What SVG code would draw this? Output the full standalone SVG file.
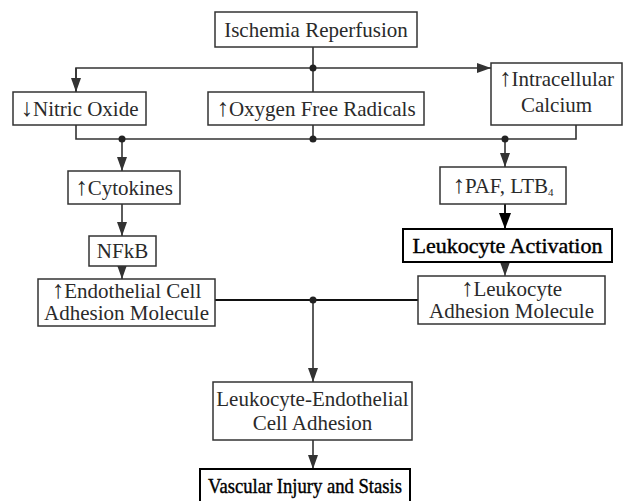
<svg xmlns="http://www.w3.org/2000/svg" width="624" height="501" viewBox="0 0 624 501">
<style>
  .box{fill:#fff;stroke:#333;stroke-width:1.5}
  .boxb{fill:#fff;stroke:#000;stroke-width:2}
  .t{font-family:"Liberation Serif","Times New Roman",serif;font-size:21px;fill:#2a2a2a;text-anchor:middle}
  .tb{font-family:"Liberation Serif","Times New Roman",serif;font-size:21px;fill:#000;stroke:#000;stroke-width:0.4;text-anchor:middle}
  .ar{font-size:25px}
  .ln{fill:none;stroke:#333;stroke-width:1.6}
  .dot{fill:#222}
</style>
<defs>
  <marker id="ah" viewBox="0 0 14 10" refX="14" refY="5" markerWidth="14" markerHeight="10" markerUnits="userSpaceOnUse" orient="auto">
    <path d="M0,0 L14,5 L0,10 z" fill="#333"/>
  </marker>
  <marker id="ahb" viewBox="0 0 16 12" refX="16" refY="6" markerWidth="16" markerHeight="12" markerUnits="userSpaceOnUse" orient="auto">
    <path d="M0,0 L16,6 L0,12 z" fill="#000"/>
  </marker>
</defs>
<rect width="624" height="501" fill="#fff"/>

<g id="connectors">
  <path class="ln" d="M313,47 V92"/>
  <path class="ln" d="M76,92 V68 H491" marker-end="url(#ah)"/>
  <path class="ln" d="M76,68 V92" marker-end="url(#ah)"/>
  <path class="ln" d="M76,125 V139 H576 V125"/>
  <path class="ln" d="M313,125 V139"/>
  <path class="ln" d="M122,139 V171" marker-end="url(#ah)"/>
  <path class="ln" d="M505,139 V167" marker-end="url(#ah)"/>
  <path class="ln" d="M122,204 V236" marker-end="url(#ah)"/>
  <path d="M505,204 V229" fill="none" stroke="#000" stroke-width="1.8" marker-end="url(#ahb)"/>
  <path class="ln" d="M122,266 V279" marker-end="url(#ah)"/>
  <path d="M505,262 V276" fill="none" stroke="#333" stroke-width="1.2" marker-end="url(#ah)"/>
  <path d="M215,300 H418" fill="none" stroke="#111" stroke-width="2.2"/>
  <path class="ln" d="M313,300 V382" marker-end="url(#ah)"/>
  <path class="ln" d="M313,440 V469" marker-end="url(#ah)"/>
  <circle class="dot" cx="313" cy="68" r="3.5"/>
  <circle class="dot" cx="313" cy="139" r="3.5"/>
  <circle class="dot" cx="122" cy="139" r="3.5"/>
  <circle class="dot" cx="505" cy="139" r="3.5"/>
  <circle class="dot" cx="313" cy="300" r="3.5"/>
</g>

<g id="ischemia">
  <rect class="box" x="215" y="12" width="202" height="35"/>
  <text class="t" x="316" y="37">Ischemia Reperfusion</text>
</g>
<g id="nitric">
  <rect class="box" x="13" y="92" width="133" height="33"/>
  <text class="t" x="79.5" y="116"><tspan class="ar">↓</tspan>Nitric Oxide</text>
</g>
<g id="oxygen">
  <rect class="box" x="208" y="92" width="216" height="33"/>
  <text class="t" x="316" y="116"><tspan class="ar">↑</tspan>Oxygen Free Radicals</text>
</g>
<g id="calcium">
  <rect class="box" x="491" y="63" width="131" height="62"/>
  <text class="t" x="556.5" y="86"><tspan class="ar">↑</tspan>Intracellular</text>
  <text class="t" x="556.5" y="112">Calcium</text>
</g>
<g id="cytokines">
  <rect class="box" x="68" y="171" width="112" height="33"/>
  <text class="t" x="124" y="195"><tspan class="ar">↑</tspan>Cytokines</text>
</g>
<g id="paf">
  <rect class="box" x="440" y="167" width="126" height="37"/>
  <text class="t" x="503" y="193"><tspan class="ar">↑</tspan>PAF, LTB<tspan font-size="11" dy="3">4</tspan></text>
</g>
<g id="activation">
  <rect class="boxb" x="403" y="229" width="209" height="33"/>
  <text class="tb" x="507.5" y="253" textLength="190" lengthAdjust="spacingAndGlyphs">Leukocyte Activation</text>
</g>
<g id="nfkb">
  <rect class="box" x="89" y="236" width="67" height="30"/>
  <text class="t" x="122.5" y="258">NFkB</text>
</g>
<g id="endothelial">
  <rect class="box" x="38" y="279" width="177" height="47"/>
  <text class="t" x="126.5" y="298"><tspan class="ar">↑</tspan>Endothelial Cell</text>
  <text class="t" x="126.5" y="320">Adhesion Molecule</text>
</g>
<g id="leukadhesion">
  <rect class="box" x="418" y="276" width="187" height="48"/>
  <text class="t" x="511.5" y="296"><tspan class="ar">↑</tspan>Leukocyte</text>
  <text class="t" x="511.5" y="318">Adhesion Molecule</text>
</g>
<g id="lecadhesion">
  <rect class="box" x="213" y="382" width="199" height="58"/>
  <text class="t" x="312.5" y="406">Leukocyte-Endothelial</text>
  <text class="t" x="312.5" y="430">Cell Adhesion</text>
</g>
<g id="vascular">
  <rect class="boxb" x="200" y="469" width="210" height="34"/>
  <text class="tb" x="305" y="493" textLength="194" lengthAdjust="spacingAndGlyphs">Vascular Injury and Stasis</text>
</g>
</svg>
